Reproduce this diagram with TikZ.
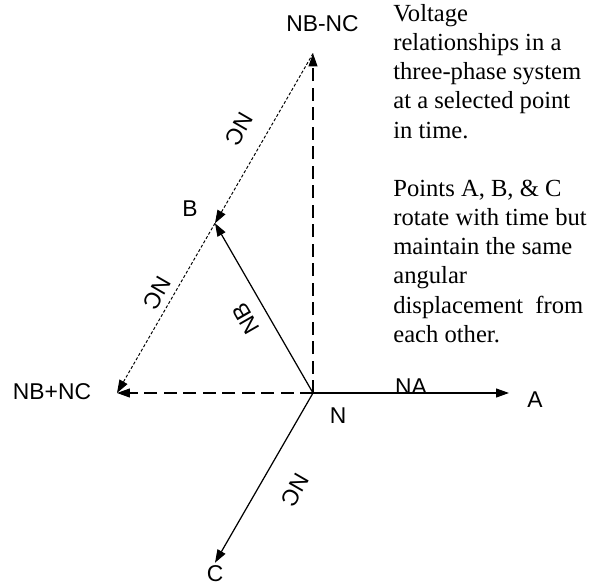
\documentclass[tikz,border=0pt]{standalone}
\usepackage{fontspec}
\setmainfont{Liberation Serif}
\setsansfont{Liberation Sans}
\usetikzlibrary{arrows.meta}
\tikzset{
  lbl/.style={font=\sffamily\fontsize{13}{15}\selectfont, inner sep=0pt},
  phasor/.style={line width=0.7pt, -{Triangle[length=0.26cm,width=0.18cm]}},
  sumline/.style={line width=0.7pt, dash pattern=on 0.26cm off 0.13cm, -{Triangle[length=0.26cm,width=0.18cm]}},
  ncline/.style={line width=0.55pt, dash pattern=on 0.06cm off 0.04cm, -{Triangle[length=0.26cm,width=0.18cm]}},
}
\begin{document}
\begin{tikzpicture}[x=0.02cm,y=0.02cm]
  \useasboundingbox (-313,-192) rectangle (285,393);
  % Points
  \coordinate (N) at (0,0);
  \coordinate (A) at (0:196);
  \coordinate (B) at (120:196);
  \coordinate (C) at (240:196);
  \coordinate (BmC) at (0,339.5);
  \coordinate (BpC) at (-196,0);
  % Phasors
  \draw[phasor] (N) -- (A);
  \draw[phasor] (N) -- (B);
  \draw[phasor] (N) -- (C);
  % Sum and difference
  \draw[sumline] (N) -- (BmC);
  \draw[sumline] (N) -- (BpC);
  \draw[ncline] (BmC) -- (B);
  \draw[ncline] (B) -- (BpC);
  % Labels
  \node[lbl] (labN) at (25,-23) {N};
  \node[lbl] (labA) at (222,-7) {A};
  \node[lbl] (labB) at (-123,184) {B};
  \node[lbl] (labC) at (-98,-181) {C};
  \node[lbl] (labNA) at (98,6) {NA};
  \node[lbl] (labBmC) at (9.5,369) {NB-NC};
  \node[lbl] (labBpC) at (-261,1) {NB+NC};
  \node[lbl, rotate=120] (labNB) at (-67,74) {NB};
  \node[lbl, rotate=-120] (labNCa) at (-74,264) {NC};
  \node[lbl, rotate=-120] (labNCb) at (-156,100) {NC};
  \node[lbl, rotate=-120] (labNCc) at (-18,-97) {NC};
  % Note
  \node[anchor=north west, inner sep=0pt, align=left,
        font=\rmfamily\fontsize{14}{16.6}\selectfont] (note) at (80,389)
    {Voltage\\relationships in a\\three-phase system\\at a selected point\\in time.\\[16.6pt]
     Points A, B, \& C\\rotate with time but\\maintain the same\\angular\\displacement\hspace{0.5em}from\\each other.};
\end{tikzpicture}
\end{document}
